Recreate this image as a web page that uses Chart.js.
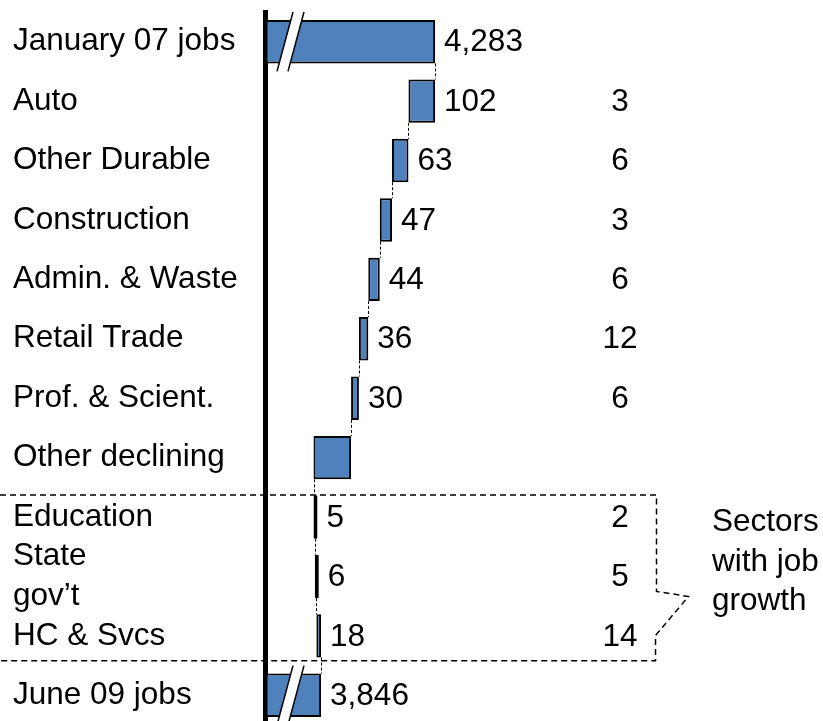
<!DOCTYPE html>
<html>
<head>
<meta charset="utf-8">
<script src="https://cdn.jsdelivr.net/npm/chart.js@4.4.0/dist/chart.umd.min.js"></script>
<style>
html, body { margin: 0; padding: 0; background: #fff; overflow: hidden; width: 823px; height: 721px; }
#wrap { position: relative; width: 823px; height: 725px; }
</style>
</head>
<body>
<div id="wrap"><canvas id="chartCanvas"></canvas></div>
<script>
const categories = ['January 07 jobs', 'Auto', 'Other Durable', 'Construction', 'Admin. & Waste',
	'Retail Trade', 'Prof. & Scient.', 'Other declining', 'Education', ['State', 'gov\u2019t'],
	'HC & Svcs', 'June 09 jobs']
const startJobs = 4283
const sectorChanges = [-102, -63, -47, -44, -36, -30, -144, 5, 6, 18]
const endJobs = 3846
const valueLabels = ['4,283', '102', '63', '47', '44', '36', '30', '', '5', '6', '18', '3,846']
const rankLabels = ['', '3', '6', '3', '6', '12', '6', '', '2', '5', '14', '']
const calloutLines = ['Sectors', 'with job', 'growth']
const axisMin = 3633
const axisMax = 5770

const FONT = '"Liberation Sans", Arial, sans-serif'
const FSIZE = 31.5

// floating bars: totals at both ends, running steps in between
let bars = [[axisMin, startJobs]]
let total = startJobs
for (const c of sectorChanges) {
	bars.push([total, total + c])
	total += c
}
bars.push([axisMin, endJobs])

const waterfallExtras = {
	id: 'waterfallExtras',
	afterDatasetsDraw(chart) {
		const ctx = chart.ctx
		const meta = chart.getDatasetMeta(0)
		const xs = chart.scales.x
		const area = chart.chartArea
		const els = meta.data

		ctx.save()

		// dashed connectors between steps
		ctx.strokeStyle = '#000'
		ctx.lineWidth = 1
		ctx.setLineDash([3, 2])
		for (let i = 0; i < els.length - 1; i++) {
			const x = Math.round(xs.getPixelForValue(bars[i][1])) + 0.5
			ctx.beginPath()
			ctx.moveTo(x, els[i].y + els[i].height / 2)
			ctx.lineTo(x, els[i + 1].y - els[i + 1].height / 2)
			ctx.stroke()
		}
		ctx.setLineDash([])

		// axis break marks on the two total bars
		for (const i of [0, els.length - 1]) {
			const el = els[i]
			const top = el.y - el.height / 2 - 8
			const bot = el.y + el.height / 2 + 8
			const x0 = area.left + 11.5
			ctx.fillStyle = '#fff'
			ctx.beginPath()
			ctx.moveTo(x0, bot)
			ctx.lineTo(x0 + 16, top)
			ctx.lineTo(x0 + 27, top)
			ctx.lineTo(x0 + 11, bot)
			ctx.closePath()
			ctx.fill()
			ctx.lineWidth = 1.5
			ctx.strokeStyle = '#000'
			ctx.beginPath()
			ctx.moveTo(x0, bot)
			ctx.lineTo(x0 + 16, top)
			ctx.moveTo(x0 + 11, bot)
			ctx.lineTo(x0 + 27, top)
			ctx.stroke()
		}

		// value labels and right hand column
		ctx.fillStyle = '#000'
		ctx.font = FSIZE + 'px ' + FONT
		ctx.textBaseline = 'middle'
		for (let i = 0; i < els.length; i++) {
			const el = els[i]
			const right = Math.max(el.x, el.base)
			ctx.textAlign = 'left'
			if (valueLabels[i]) ctx.fillText(valueLabels[i], right + 9, el.y + 1)
			ctx.textAlign = 'center'
			if (rankLabels[i]) ctx.fillText(rankLabels[i], 620, el.y + 1)
		}

		// dashed box round the growth sectors
		const pitch = els[1].y - els[0].y
		const yTop = els[8].y - 0.37 * pitch
		const yBot = els[10].y + 0.42 * pitch
		const bx = 656.5
		ctx.lineWidth = 1.5
		ctx.setLineDash([6, 4])
		ctx.beginPath()
		ctx.moveTo(0, yTop)
		ctx.lineTo(bx, yTop)
		ctx.lineTo(bx, els[9].y + 15)
		ctx.lineTo(bx + 32, els[9].y + 20)
		ctx.lineTo(bx - 1, els[9].y + 59)
		ctx.lineTo(bx - 1, yBot)
		ctx.lineTo(0, yBot)
		ctx.stroke()
		ctx.setLineDash([])

		ctx.textAlign = 'left'
		for (let k = 0; k < calloutLines.length; k++) {
			ctx.fillText(calloutLines[k], 712, els[9].y - 54 + k * 39.5)
		}
		ctx.restore()
	}
}

new Chart(document.getElementById('chartCanvas'), {
	type: 'bar',
	data: {
		labels: categories,
		datasets: [{
			data: bars,
			backgroundColor: '#4F81BD',
			borderColor: '#000',
			borderWidth: 2,
			borderSkipped: false,
			minBarLength: 4,
			categoryPercentage: 1,
			barPercentage: 0.73,
		}],
	},
	options: {
		indexAxis: 'y',
		animation: false,
		responsive: true,
		maintainAspectRatio: false,
		layout: {
			padding: { left: 13, top: 12, right: 0, bottom: 0 },
		},
		plugins: {
			legend: { display: false },
			tooltip: { enabled: false },
		},
		scales: {
			x: {
				display: false,
				min: axisMin,
				max: axisMax,
			},
			y: {
				grid: { display: false },
				border: { color: '#000', width: 5 },
				ticks: {
					color: '#000',
					autoSkip: false,
					crossAlign: 'far',
					padding: 0,
					font: { family: FONT, size: FSIZE, lineHeight: 1.25 },
				},
				afterFit(scale) {
					scale.width = 252.5
					scale.paddingTop = 0
					scale.paddingBottom = 0
				},
			},
		},
	},
	plugins: [waterfallExtras],
})
</script>
</body>
</html>
